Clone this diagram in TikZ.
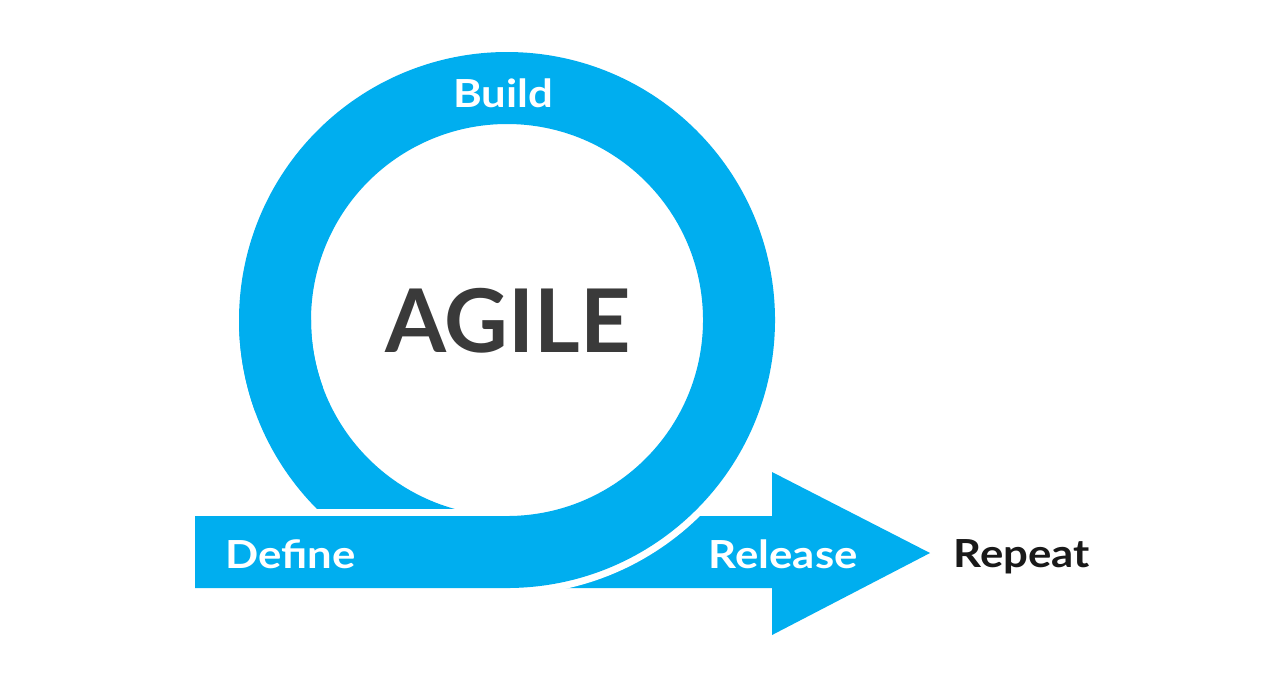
\documentclass[tikz,border=0pt]{standalone}
\usepackage{fontspec}
\setmainfont{Lato}
\newfontfamily\widelato{Lato}[FakeStretch=1.13]
\usetikzlibrary{positioning, calc}
\definecolor{agileBlue}{RGB}{0, 174, 239}
\definecolor{agileGray}{RGB}{58, 58, 58}
\definecolor{agileDark}{RGB}{25, 25, 25}

\begin{document}
\begin{tikzpicture}[
    band/.style={draw=agileBlue, line width=0.72cm},
    gap/.style={draw=white, line width=0.86cm},
    label/.style={font=\widelato\fontsize{11}{13}\selectfont\bfseries, text=white, inner sep=0pt},
    title/.style={font=\fontsize{25}{30}\selectfont\bfseries, text=agileGray, inner sep=0pt},
  ]
    \useasboundingbox[fill=white] (0,0) rectangle (12.8,6.83);
    % Loop centre and band ends
    \coordinate (C) at (5.07,3.63);
    \coordinate (BAR0) at (1.95,1.31);
    \coordinate (BOT) at (5.07,1.31);
    \coordinate (HEADL) at (7.75,1.31);

    % Lower loop running out into the arrow
    \draw[band] ($(C)+(180:2.32)$) arc[start angle=180, end angle=270, radius=2.32] -- (HEADL);
    \fill[agileBlue] (7.72,2.11) -- (9.30,1.30) -- (7.72,0.48) -- cycle;

    % Define bar rising into the ring, with a white gap
    \draw[gap] (BAR0) -- (BOT) arc[start angle=-90, end angle=30, radius=2.32];
    \draw[band] (BAR0) -- (BOT) arc[start angle=-90, end angle=200, radius=2.32];

    % Labels
    \node[label, anchor=base] (build) at (5.03,5.76) {Build};
    \node[title, anchor=base] (agile) at (5.08,3.31) {AGILE};
    \node[label, anchor=base west] (define) at (2.25,1.15) {Define};
    \node[label, anchor=base west] (release) at (7.08,1.15) {Release};
    \node[label, anchor=base west, text=agileDark] (repeat) at (9.53,1.16) {Repeat};
\end{tikzpicture}
\end{document}
